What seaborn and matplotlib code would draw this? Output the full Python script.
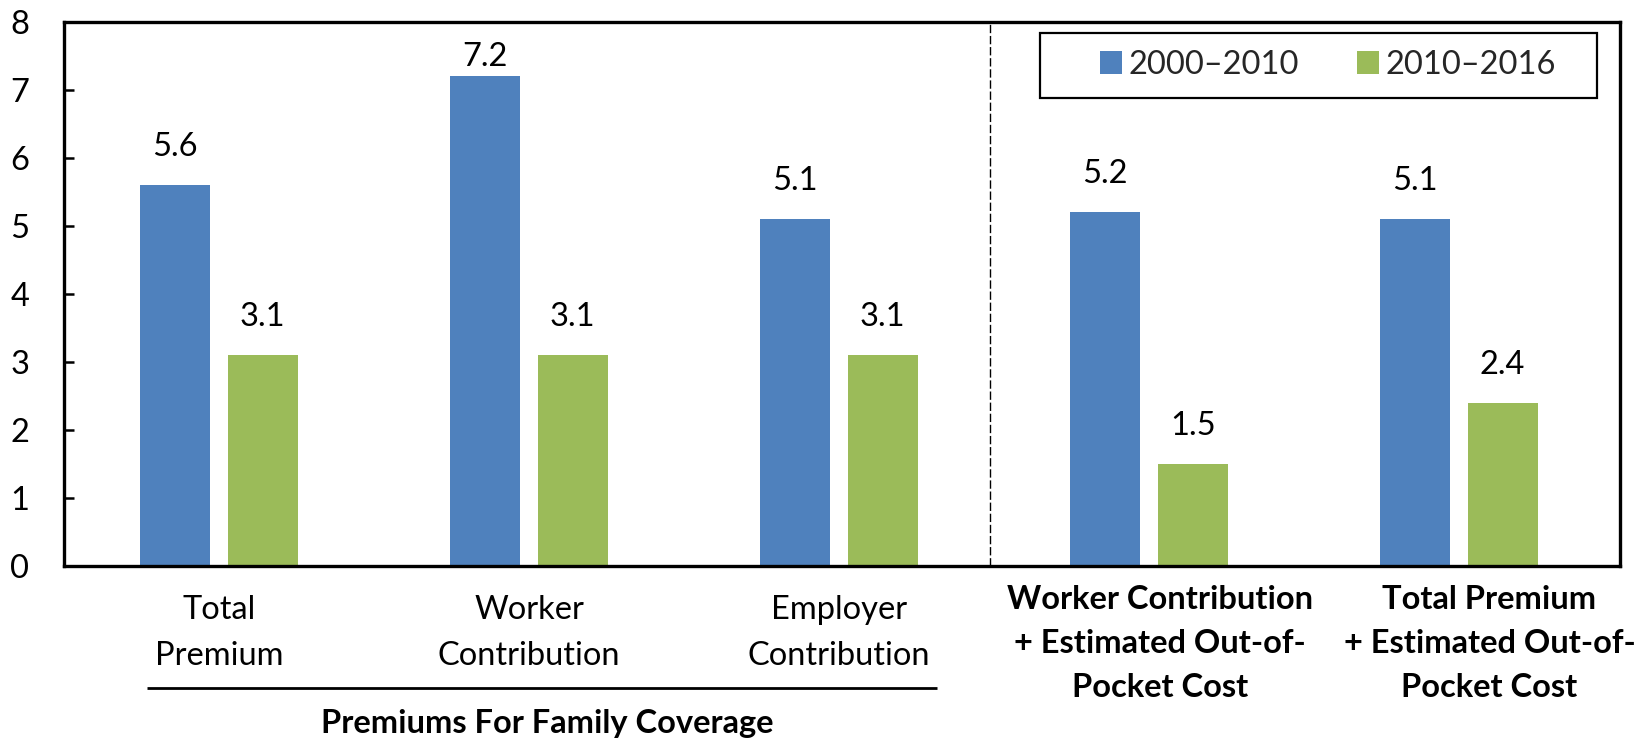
import numpy as np
import pandas as pd
import matplotlib
matplotlib.use("Agg")
import matplotlib.pyplot as plt
import matplotlib.transforms as mtransforms
from matplotlib.patches import Rectangle, Patch
import seaborn as sns

# ---- data -------------------------------------------------------------
categories = [
    "Total\nPremium",
    "Worker\nContribution",
    "Employer\nContribution",
    "Worker Contribution\n+ Estimated Out-of-\nPocket Cost",
    "Total Premium\n+ Estimated Out-of-\nPocket Cost",
]
periods = ["2000\u20132010", "2010\u20132016"]
growth_2000_2010 = [5.6, 7.2, 5.1, 5.2, 5.1]
growth_2010_2016 = [3.1, 3.1, 3.1, 1.5, 2.4]
y_ticks = [0, 1, 2, 3, 4, 5, 6, 7, 8]
group_title = "Premiums For Family Coverage"

# ---- style ------------------------------------------------------------
BLUE = "#4F81BD"
GREEN = "#9BBB59"
FS = 23.5

df = pd.DataFrame({
    "category": categories * 2,
    "period": [periods[0]] * len(categories) + [periods[1]] * len(categories),
    "value": growth_2000_2010 + growth_2010_2016,
})

sns.set_theme(style="white")
plt.rcParams["font.family"] = ["Lato", "DejaVu Sans"]

W, H = 1650, 740
fig = plt.figure(figsize=(W / 100, H / 100), dpi=100)
ax = fig.add_axes([64 / W, 1 - 566 / H, (1620 - 64) / W, (566 - 22) / H])

sns.barplot(
    data=df, x="category", y="value", hue="period",
    order=categories, hue_order=periods,
    palette=[BLUE, GREEN], saturation=1,
    width=0.566, gap=0.2, errorbar=None, linewidth=0,
    legend=False, ax=ax,
)

ax.set_xlim(-0.5, 4.52)
ax.set_ylim(0, 8)
ax.set_yticks(y_ticks)
ax.set_yticklabels([str(t) for t in y_ticks])
ax.set_xticks(range(len(categories)))
ax.set_xticklabels([])
ax.set_xlabel("")
ax.set_ylabel("")

for side in ("left", "right", "top", "bottom"):
    ax.spines[side].set_visible(True)
    ax.spines[side].set_color("black")
    ax.spines[side].set_linewidth(2.4)

ax.tick_params(axis="y", left=True, direction="in", length=7, width=1.8,
               color="black", pad=25, labelsize=FS, labelcolor="black")
ax.tick_params(axis="x", bottom=False, length=0)

# value labels above each bar (kept below the top of the frame)
for container in ax.containers:
    for bar, v in zip(container, container.datavalues):
        xc = bar.get_x() + bar.get_width() / 2
        ax.annotate(f"{v:.1f}", (xc, min(v + 0.56, 7.48)),
                    ha="center", va="center", fontsize=FS, color="black")

# separator between premium components and combined costs
ax.axvline(2.487, color="black", lw=1.0, ls=(0, (6, 2)), zorder=1)

# category labels under the axis
trans = mtransforms.blended_transform_factory(ax.transData, ax.transAxes)
for i, label in enumerate(categories):
    combined = i >= 3
    dx = (0, 0, 0, 8, 22)[i]
    ax.annotate(label, xy=(i, -0.143 if combined else -0.123), xycoords=trans,
                xytext=(dx, 0), textcoords="offset points",
                ha="center", va="center", multialignment="center",
                fontsize=FS, color="black",
                fontweight="bold" if combined else "normal",
                linespacing=1.62 if combined else 1.64,
                annotation_clip=False)

# bracket line and title for the first three groups
ax.plot([-0.232, 2.316], [-0.224, -0.224], transform=trans, color="black",
        lw=2, clip_on=False, solid_capstyle="butt")
ax.text(1.058, -0.290, group_title, transform=trans, ha="center", va="center",
        fontsize=FS, fontweight="bold", color="black")

# legend with a rectangular frame
handles = [Patch(facecolor=BLUE, edgecolor="none"),
           Patch(facecolor=GREEN, edgecolor="none")]
ax.legend(handles, periods, loc="center left", bbox_to_anchor=(0.666, 0.921),
          ncol=2, frameon=False, fontsize=FS, handlelength=0.65,
          handleheight=0.7, handletextpad=0.2, columnspacing=1.8,
          borderpad=0, borderaxespad=0)
ax.add_patch(Rectangle((0.627, 0.860), 0.358, 0.1195, transform=ax.transAxes,
                       fill=False, edgecolor="black", lw=1.6, zorder=5))

fig.savefig("out.png", dpi=100, facecolor="white")
